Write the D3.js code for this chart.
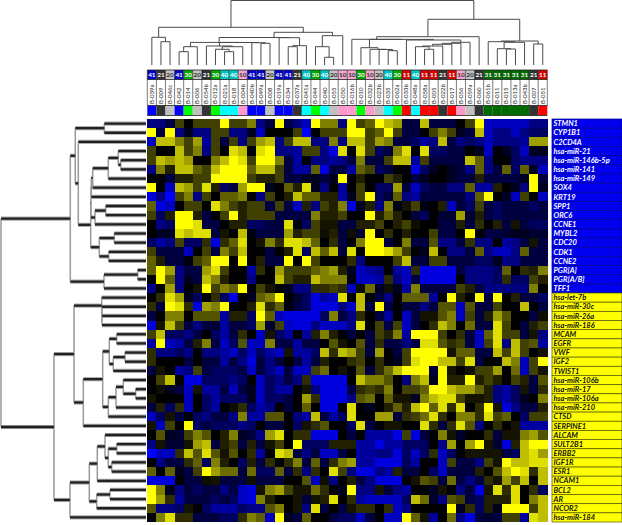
<!DOCTYPE html>
<html><head><meta charset="utf-8">
<script src="https://cdn.jsdelivr.net/npm/d3@7"></script>
<style>html,body{margin:0;padding:0;background:#fff}svg{display:block}</style>
</head><body><svg id="c" width="622" height="525"></svg>
<script>
const sampleNames = ["B-039a","B-009","B-046c","B-042","B-014","B-006","B-054b","B-012a","B-021a","B-018","B-004b","B-040b","B-049a","B-008","B-019a","B-034","B-037a","B-041a","B-044","B-040","B-055","B-050","B-016b","B-010","B-032b","B-023b","B-035","B-062a","B-033b","B-048a","B-058a","B-005","B-022b","B-017","B-056","B-059a","B-060","B-061b","B-011","B-015","B-013a","B-043b","B-007","B-051"];
const sampleClass = [41,21,20,41,30,20,21,30,40,40,10,41,41,20,41,41,21,40,30,40,20,10,10,30,10,20,40,30,11,40,11,11,21,11,10,20,21,31,31,31,31,31,21,11];
const rowNames = ["STMN1","CYP1B1","C2CD4A","hsa-miR-21","hsa-miR-146b-5p","hsa-miR-141","hsa-miR-149","SOX4","KRT19","SPP1","ORC6","CCNE1","MYBL2","CDC20","CDK1","CCNE2","PGR[A]","PGR[A/B]","TFF1","hsa-let-7b","hsa-miR-30c","hsa-miR-26a","hsa-miR-186","MCAM","EGFR","VWF","IGF2","TWIST1","hsa-miR-106b","hsa-miR-17","hsa-miR-106a","hsa-miR-210","CTSD","SERPINE1","ALCAM","SULT2B1","ERBB2","IGF1R","ESR1","NCAM1","BCL2","AR","NCOR2","hsa-miR-184"];
const rowGroup = rowNames.map((d,i)=> i<19 ? "up" : "down");
const heatLeft = [
[-2,-2,-1,1,0,1,1,1,4,1,1,2,-2,-1,4,-1,-2,-3,4,2,2,-2],
[4,-1,4,-2,-.5,-2,-2,1,1,-2,-2,-.5,-3,0,0,0,1,-4,0,1,1,1],
[-3,3,3,2,1,2.5,-2.5,1,-1,1,-2,1,2.5,3,-2,1,3,3,-2,-2,2,-2],
[1,0,0,3,1,2,-2,1,0,3.5,3,0,3.5,4,-2,-2,-2.5,1,1,-2,-3.5,3.5],
[1,3,2.5,3,2.5,0,0,2,3,4,3.5,1,4,4,2,-1,-2.5,0,-2,-2,-2.5,-2],
[-2,2,.5,3,3,1.5,1,3,4,4,4,1.5,3,3,1,-1,-2.5,-2.5,1.5,-3.5,-1,-1],
[0,0,-1,.5,.5,1,1,4,4,4,4,1,.5,.5,1,-1,-1,-.5,-.5,-1,-.5,4],
[4,0,-3,3,2.5,1,3.5,.5,-1.5,-1,2.5,4,4,-.5,0,1.5,.5,3.5,-.5,-2,0,-2.5],
[-3.5,-2,-4,1,2,-2,1,0,1.5,1.5,2,0,-2,1,0,.5,3,1.5,1.5,.5,.5,-2.5],
[1.5,-3.5,-3,0,1,1,0,3.5,2,1,.5,1,1,-1,1,-1,-3,.5,-2,1,.5,2],
[1,-1.5,.5,4,4,.5,-1,0,1,4,.5,1,1,1,-1,-1,-1,-1,2,.5,.5,1],
[0,-2,-1.5,4,4,3.5,-1,-1,0,.5,.5,-1.5,-1.5,-1,-1,3.5,-.3,-1.5,1,.3,.3,-1],
[0,-.5,-.5,3.5,3,3.5,3.5,-1,.3,0,3,-.3,-1,-1,-1,2.5,.5,1,1,.2,.5,-1],
[-1.5,-2.5,-2,1,-1.5,-1.5,.7,-3.5,.7,1.5,3.5,0,.3,2,.7,3.5,3.5,3,1.5,0,.7,-1],
[1,-1,-1,-1,-3,0,1,-1,2,1,3,0,0,-1,0,.5,3.5,-1.5,3,1.5,3,-1],
[1.5,.5,-1,-1,-.3,1,1.5,4,4,0,4,0,.5,-1,-1,4,0,4,1,0,0,0],
[1.5,4,2.5,-2,-1,-1,2.5,3.5,1,0,0,-2.5,.7,0,2.5,1,1,1,1.5,2,2.5,.5],
[0,4,1.5,-2,-.5,-1,3,2,.5,0,0,-2,0,0,3,1,.5,.5,3,2,2,2],
[-2,0,2.5,-2,0,.3,4,1,2,1.5,4,0,1,.3,0,-.5,-2,-2,.7,.7,1,.7],
[0,.7,3.5,2.5,-.5,-1.5,0,.7,-1.5,-3.5,0,-.5,1.5,2,4,0,-.8,-1.5,-3.5,-2.5,-3,3.5],
[.7,-1,4,3.5,.7,-3.5,2.5,2,4,0,0,.5,3.5,.7,1.5,-.3,-1,-1.5,-3.5,-3.5,-3.5,-2],
[-1,0,2,2,0,1.3,1.3,1.3,-2.5,.5,.5,-1.5,4,1.5,-3,-3.5,-3.5,-3.5,-3.5,-1.5,2,-1],
[-3.5,.3,3,1,-1,-2,-1,-.8,-2.5,-1,-1,-1.5,2.5,-.8,1,-3,-3.5,-3.5,-2,-3,-3,-3],
[1,3,-1.5,-1.5,-2,-1,0,-1.5,-2.5,-1,.7,0,-3,.3,-1.5,-2.5,0,-2.5,.5,2,.5,0],
[-2.5,4,-3,-2.5,-1,.5,2,-1,-3,-1.5,1.3,-3,-3,2,-1,-1,-2.5,-1,-1,0,1.3,.3],
[.7,-2,-2,-1.5,-2,0,-2,-2,-2.5,-3,-1.5,-3,-1.5,-2.5,-3,.3,-2.5,-2.5,-1.5,3,.7,3],
[.7,0,0,0,-1,0,-1,-1,-2.5,-1,-2,-3.5,-1,-2,-1,0,-1,-2.5,-1,.5,0,0],
[-1,.3,0,-2.5,-2,1,-1,-1.5,-1.5,-1.5,-1,-3,-1,-2,-3,-1,-3,-3,1,1.7,0,.3],
[0,1,3,0,-3.5,-3.5,-1.5,-1.5,-1.5,-2,-1.5,0,-3,-1.5,-2,-1,-2,.7,-3.5,-3.5,-3.5,-3.5],
[0,.2,-.5,-1,-3,.3,-2.5,-2.5,-1,-3,-1,-.5,-3,-1.5,-2.5,-2.5,0,.3,-2,-3.5,-3.5,-3.5],
[.3,0,0,0,-3,0,-1.5,-2.5,-1.5,-1.5,-1.5,-.5,-3,-1.5,-1.5,-1,0,2.5,.7,-3.5,-3.5,-3.5],
[-1,.5,-1.5,.7,-3,0,-1.5,-2.5,0,.2,.7,-1.5,-2.5,-2,0,-1,0,1.5,0,-3.5,-3.5,0],
[-3,-1.5,.3,-1,0,-1.5,-2,-1,-1,-2,2,-2.5,-2.5,1.3,1.3,0,-2,-2.5,3,-1,-2.5,-1.5],
[.3,-3,1,0,4,-1.5,-1,-1.5,-1.5,-1.5,-2,-1.5,0,-1,-1,0,-1.5,.3,.7,1.3,0,0],
[0,1.3,-.5,-.8,1,2,1.3,0,.5,2,-.5,-1,-2,2.5,3.5,0,.7,.7,-3.5,-3.5,-3.5,0],
[-2,.3,-.8,-.8,.3,2.5,3,-1,.5,1,-1,.5,-1,.3,1,0,4,-1.5,-1.5,-1.5,.5,.5],
[-4,-3,-3,.7,3,1.3,3.5,1.3,.3,1.3,0,.7,-2.5,0,3.5,3,-1,-2,-1,-3,-3,-1],
[0,-2,-1,-1,.7,1.5,-1.5,2,.5,0,-1.5,.5,-1,.7,0,.7,2,-1,1.5,-1,.7,2],
[1.5,0,1.5,-.5,-1,1,4,2.5,1.7,1.7,-1,1.7,-1.5,-1.5,1.5,-1,.7,-2,.7,0,3.5,1],
[-3.5,-3.5,-3.5,0,-1,-1,.2,.3,-1,-1,-1,.2,-1,-1,-1,0,0,1.3,-3,.2,-2,0],
[4,2,-.5,-2,-1,-1.5,-1,-1,-2,-1,-3,-3.5,.3,2,2.5,1,.3,.3,1.7,.7,0,-.5],
[4,2.5,.7,-2.5,-1,-1,-1,-1.5,-1,-1.5,-3,-3.5,2,.5,0,0,.3,-1,.3,.5,3.5,0],
[1.3,-2,-2,-1.5,.3,0,-1.5,-2.5,-2.5,-2.5,-1.5,-2,-2,1.3,2,0,.3,-2,3.5,-1,0,-1],
[0,2,3.5,.7,.7,-1,-1,-1,-1.5,-1.5,.7,2,1.5,-3,4,-.5,-1,1.5,0,0,-1,-1.5]
];
const heatRight = [
[4,1,1.5,4,3,2.5,-1,-1,3,-1,-1,-1,0,1,4,-3,-3,-3,-3,-3,-2,-2],
[4,4,1,1.5,4,1,-1,-1,0,1,2,1,-.5,-1,3,-3,-2,-2,-3,-2,-1.5,-1.5],
[3,3,1,2.5,2,-1,-1,-1.5,-2.5,-2,3,-1,-2,-1.5,-2,-3,-2,-2,-2,-2.5,2.5,2.5],
[0,3.5,1,-1.5,-1,2,3.5,0,3.5,-1.5,-1.5,-1,-1,0,-.5,-3,0,-.5,-1.5,-3,-.5,-.5],
[-1,2,-1,-1,1,3,3,-2.5,1,-1,-1,-1,-1,3,1.5,-2,0,0,-1.5,-2,-2,-2],
[-2.5,1.5,1,-1.5,-1,0,0,-3.5,-1.5,-.5,0,-.5,-1,-2,1.5,-2,-1,1.5,-1.5,1.5,-.5,-3],
[0,.5,0,0,1,.5,0,-1,-.5,0,0,-.5,-1,-1,.5,-1,-1,-1,-1,-.5,4,-1],
[0,1,0,-1.5,-1.5,2.5,-1,-3,-1.5,-1,-1,-2,-2,1.5,-2.5,-2.5,.5,0,-.5,-2,4,-.5],
[-.5,1,4,-1.5,-1,1.5,-2,-2.5,-1,-1,-1,-1,-1,-2,1.5,4,0,-.5,-3,1,0,-3],
[-3.5,-.5,.5,-2,2,-.3,.3,1,-.3,0,.5,-3,-1,-1.5,1,-1,-1.5,-1,-1,-1,-1.5,-1],
[0,0,4,.5,1.5,.5,0,-1,-1.5,0,-.8,-.8,2.5,-.8,.5,-1,-1.5,-1,-1,-1,-1,-1],
[-1,.5,.5,1,0,.5,1,.2,0,0,-1,-1,.5,-1,.7,0,.5,-1,.3,-1,-1.5,-1.5],
[.2,-.8,4,0,.7,0,.5,0,0,1,-1,-1,0,4,0,-1,-1,-.8,-.5,-.5,-.8,-.8],
[0,2,4,4,-1,0,2,-1,-1,1.3,-2,-2,-1,.8,-2,-2,0,-2.5,-2,-1,.3,-1],
[3.5,0,4,4,3.5,2.5,1,0,-.5,3,0,-2,-2,-1,1.5,-2,-3,-3,-2,1.5,-1,-1],
[.7,-2,0,0,0,1,3,-1,-1,1,1,-1,-1,-1,-1.5,-1.5,-.5,-2,-2,-1,-1,-1],
[-.5,-3,-2.5,-2,0,-2.5,-3,.7,-3.5,-3.5,-3.5,-3.5,-1,-2,-2,-2,-1.5,1.5,0,.7,.5,2],
[-.3,-3,-3,-2.5,.7,-2,-3,-1,-3.5,-3.5,-3.5,-3.5,0,-2,-2,-2,-1.5,.7,-1.5,-1.5,1,.5],
[-3,.2,1.7,-.5,.2,-.5,-2.5,2,-1,-1,-1,-1,1,.5,-1,-2,-2,-2,-2,-2,2,0],
[0,3,0,-1,-2,0,1.5,1.5,1.5,-2.5,0,4,.5,0,4,-1,4,0,.5,-1,-1,-1.5],
[-3,3,-1,4,-1,0,-1,-1,-2,-1,1.3,1.3,-3,1.3,-1,-1,1,0,0,3,0,-1],
[-2,.7,0,-1,-2.5,0,-3,-1,.3,.3,1.3,2,-3,1,-1,.5,2.5,1.3,0,0,-1,.2],
[-2,3.5,0,1,-1,1,-3,-1,0,.7,3,2,0,1.7,-1,-1,3.5,1,0,-1,.5,1],
[-1,0,-1,1,.5,2,-2.5,4,4,4,1,0,.7,-1,-3,1.5,3.5,1,1,-1,.3,-2],
[0,1.3,-1,.7,-1,-1,-2,-1,3.5,3.5,1.3,.7,1,-1,-3,1,3.5,-2,3,1,1.3,-2.5],
[2.5,1,-1,2.5,0,-1,1,4,4,4,4,.3,1.5,1.5,-1,-1,3,1,3,1,0,.3],
[.7,1,0,.7,0,-.5,1,3.5,4,4,3,3,1,3.5,-1,0,0,3,2,-3,1,4],
[0,1.3,-1,.7,1.7,3,4,4,4,-1,4,.3,0,.3,1,1,2.5,0,1.7,-3,1,.3],
[0,3,2,2,1.3,0,-2,2,3,-.5,4,.5,.5,4,.5,1,.5,0,1,.5,-1,1.3],
[-1,.7,1,.7,2,0,1,1,1.5,4,4,3,2.5,2.5,1.5,.5,-2,-2.5,-1.5,.3,-1,.7],
[-2,1.3,1.7,0,1.5,.3,.3,-.5,2,3,3.5,3.5,1,.3,.3,.5,-2,-2.5,-1.5,-.5,0,2],
[3.5,0,-.5,0,.5,1.5,.5,3,4,1.5,3.5,.7,3.5,0,.7,4,.3,-3.5,-2,-1,-1,.5],
[3.5,0,0,2.5,2.5,-1,.7,1,1.7,3.5,.7,0,2,2,.7,3.5,1,1.5,0,-1.5,1,1],
[-1.5,3.5,-1,0,.3,.3,0,0,3.5,.7,-1,.7,3.5,1.3,-2,0,.7,0,.3,-2.5,-2.5,-2.5],
[-1,0,-2.5,-2.5,-2.5,-3.5,1,-3.5,-1,0,2,.3,-.7,0,0,.7,-1,.3,.3,2,2.5,1.3],
[.5,-2.5,-2.5,-3.5,-2.5,-2.5,-1.5,-1.5,-1.5,0,-2,2.5,0,2.5,4,.3,-.8,-3.5,.5,3,4,4],
[0,-2.5,-2.5,-2,-2,-3.5,-1.5,-3,-1.5,.7,-3,-1.5,0,.3,.3,.3,.3,-1,-1.5,3,3.5,2.5],
[2.5,-2.5,-2.5,-3.5,-3.5,-3.5,-1.5,-2.5,0,0,-3,1,-1,-1,-2,1,.3,4,3,3,3.5,3.5],
[-2,-3.5,-3.5,-2,-2.5,.5,-1,-1,0,-1.5,-3,-1,-1,-1,.5,0,1.3,3,4,3.5,.7,3],
[.5,-1,-2,-3.5,-3.5,-3.5,0,.3,1.3,1,-1,1.7,-1,-2,-1,.7,.3,2.5,1,3,0,3],
[4,-2,-2,.3,-1,-2,-2.5,0,0,-.5,.3,0,-2,-1,-3.5,.3,3.5,.7,3.5,0,.7,-1.5],
[.7,-2.5,-3,-3,-3,-3,-1.5,3,1.7,-.7,-2,1.3,1,-1,-1.5,.5,.5,.5,3.5,0,2,3],
[.3,.7,.7,0,.7,-3,-2,0,0,0,0,4,-.5,.7,-1.5,.5,-.5,4,4,4,1,3],
[-1.5,-3,-1,0,-3,-3,4,1.5,.3,-2.5,0,1.7,-2,-3.5,-1,-.7,-1,1,1,-2.5,3.5,3]
];
const classHead = {41:"#0000c8",21:"#333333",20:"#c4c4c4",30:"#00a800",40:"#00c4c4",10:"#f4a6cc",11:"#d80000",31:"#006a00"};
const classStrip = {41:"#0000ff",21:"#333333",20:"#c0c0c0",30:"#00ff00",40:"#00ffff",10:"#ff99cc",11:"#ff0000",31:"#006a00"};
const classText = {41:"#fff",21:"#fff",20:"#333",30:"#fff",40:"#fff",10:"#333",11:"#fff",31:"#fff"};

const N = (h, ...kids) => ({h, kids});
const At = (at, node) => Object.assign(node, {at});
const colSideA = N(37.7,
  N(27.7, 0, N(23.3, 1, 2)),
  N(32.7,
    At(13.44, N(27.5,
      At(7.4, N(22.6,
        N(18.3, N(13.3, 3, 4), 5),
        N(22.5,
          N(19, 6, N(18.3, N(15.7, 7, N(13.3, 8, 9)), 10)),
          N(22.3, 11, N(21.7, 12, 13))))),
      N(27.3, 14, N(19.3, N(18.3, 15, 16), 17)))),
    N(29.3, N(18.3, 18, N(7.7, 19, 20)), 21)));
const colSideB = N(45.7,
  N(28.3,
    N(25.7, 22,
      N(25.6,
        N(17.3, 23, N(15.7, 24, N(15.5, 25, N(14.3, 26, 27)))),
        N(25, 28,
          N(22.7, N(21.7, N(20.7, N(19, N(18.3, 29, N(15.7, 30, 31)), 32), 33), 34), 35)))),
    36),
  N(24,
    N(23.3, 37, N(22.7, N(16.3, 38, N(16, 39, 40)), 41)),
    N(21, 42, 43)));
const colTree = N(64.5, colSideA, colSideB);
const rowTree = N(145,
  N(75.7,
    N(70.7,
      N(41.7, 0, 1),
      N(67.7, 2,
        N(55.3,
          N(55,
            N(54.7, N(53.3, N(37.7, N(27.7, 3, N(25.3, 4, 5)), 6), 7), 8),
            N(51, N(40.3, 9, 10), 11)),
          N(46.7, N(31.7, 12, 13), N(37.3, 14, 15))))),
    N(42, N(8.3, 16, 17), 18)),
  N(92,
    N(72,
      N(44.3, 19, N(44.1, 20, N(44, 21, 22))),
      N(62.7,
        N(43.3,
          N(36.7, N(29.3, 23, 24), N(32.7, N(21, 25, 26), 27)),
          N(37.7, N(30, N(22.7, 28, N(10.3, 29, 30)), 31), 32)),
        33)),
    N(76,
      N(56.7,
        N(48.7, N(41, 34, N(37.7, N(29.3, 35, 36), N(34.3, 37, 38))), 39),
        N(49.3, N(36, 40, 41), 42)),
      43)));

const svg = d3.select("#c");
const X0 = 147.3, X1 = 547.3, Y0 = 119, Y1 = 522;
const x = d3.scaleBand().domain(d3.range(44)).range([X0, X1]);
const y = d3.scaleBand().domain(d3.range(44)).range([Y0, Y1]);
const colPos = d3.scaleLinear().domain([0, 43]).range([x(0) + x.bandwidth()/2, x(43) + x.bandwidth()/2]);
const rowPos = d3.scaleLinear().domain([0, 43]).range([y(0) + y.bandwidth()/2, y(43) + y.bandwidth()/2]);
const topH = d3.scaleLinear().domain([0, 65]).range([65, 0]);
const leftH = d3.scaleLinear().domain([0, 146]).range([146, 0]);
const color = d3.scaleLinear().domain([-4, 0, 4]).range(["#0000ff", "#000000", "#ffff00"]).clamp(true);

const heatValues = heatLeft.map((r, i) => r.concat(heatRight[i]));
const cells = heatValues.flatMap((r, i) => r.map((v, j) => ({i, j, v})));
svg.append("g").attr("shape-rendering", "crispEdges").selectAll("rect").data(cells).join("rect")
  .attr("x", d => x(d.j)).attr("y", d => y(d.i))
  .attr("width", x.bandwidth() + .4).attr("height", y.bandwidth() + .4)
  .attr("fill", d => color(d.v));

const head = svg.append("g");
const rowTop = [70, 79.5, 105.5, 115.5];
sampleClass.forEach((c, j) => {
  head.append("rect").attr("x", x(j)).attr("y", rowTop[0]).attr("width", x.bandwidth()).attr("height", rowTop[1]-rowTop[0]).attr("fill", classHead[c]);
  head.append("rect").attr("x", x(j)).attr("y", rowTop[2]).attr("width", x.bandwidth()).attr("height", rowTop[3]-rowTop[2]).attr("fill", classStrip[c]);
  head.append("text").attr("x", x(j) + x.bandwidth()/2).attr("y", rowTop[0] + 7).attr("text-anchor", "middle")
    .attr("font-family", "Lato").attr("font-weight", 700).attr("font-size", 6.4).attr("fill", classText[c]).text(c);
  head.append("text").attr("transform", `translate(${x(j) + x.bandwidth()/2 + 2},${rowTop[2] - 1.5}) rotate(-90)`)
    .attr("font-family", "Lato").attr("font-size", 6).attr("fill", "#222").text(sampleNames[j]);
});
const frame = head.append("g").attr("stroke", "#222").attr("stroke-width", .8).attr("fill", "none");
rowTop.forEach(t => frame.append("line").attr("x1", X0).attr("x2", X1).attr("y1", t).attr("y2", t));
d3.range(45).forEach(j => {
  const px = j < 44 ? x(j) : X1;
  frame.append("line").attr("x1", px).attr("x2", px).attr("y1", rowTop[0]).attr("y2", rowTop[2]).attr("stroke-opacity", .75);
});

const panel = svg.append("g");
rowNames.forEach((name, i) => {
  const up = rowGroup[i] === "up";
  panel.append("rect").attr("x", 552).attr("y", y(i)).attr("width", 70).attr("height", y.bandwidth())
    .attr("fill", up ? "#0000ee" : "#ffff00").attr("stroke", up ? "#000090" : "#555500").attr("stroke-width", .7);
  panel.append("text").attr("x", 553.5).attr("y", y(i) + y.bandwidth()/2 + 2.7)
    .attr("font-family", "Lato").attr("font-weight", 700).attr("font-style", "italic").attr("font-size", 7.5)
    .attr("fill", up ? "#fff" : "#111").text(name);
});

function place(node, pos) {
  if (typeof node === "number") return {c: pos(node), h: 0};
  const kids = node.kids.map(k => place(k, pos));
  const cs = kids.map(k => k.c);
  return {c: node.at !== undefined ? pos(node.at) : (d3.min(cs) + d3.max(cs)) / 2, h: node.h, kids};
}
const topG = svg.append("g").attr("stroke", "#4a4a4a").attr("stroke-width", 1).attr("fill", "none");
(function walk(n) {
  if (!n.kids) return;
  topG.append("line").attr("x1", d3.min(n.kids, k => k.c)).attr("x2", d3.max(n.kids, k => k.c)).attr("y1", topH(n.h)).attr("y2", topH(n.h));
  n.kids.forEach(k => {
    topG.append("line").attr("x1", k.c).attr("x2", k.c).attr("y1", topH(n.h)).attr("y2", topH(k.h));
    walk(k);
  });
})(place(colTree, colPos));
const leftV = svg.append("g").attr("stroke", "#999999").attr("stroke-width", 1.5);
const leftShade = svg.append("g").attr("stroke", "#aaaaaa").attr("stroke-width", 4.2);
const leftG = svg.append("g").attr("stroke", "#222222").attr("stroke-width", 2.3);
(function walk(n) {
  if (!n.kids) return;
  leftV.append("line").attr("y1", d3.min(n.kids, k => k.c)).attr("y2", d3.max(n.kids, k => k.c)).attr("x1", leftH(n.h)).attr("x2", leftH(n.h));
  n.kids.forEach(k => {
    [leftShade, leftG].forEach(g => g.append("line").attr("y1", k.c).attr("y2", k.c).attr("x1", leftH(n.h)).attr("x2", leftH(k.h)));
    walk(k);
  });
})(place(rowTree, rowPos));
</script></body></html>
